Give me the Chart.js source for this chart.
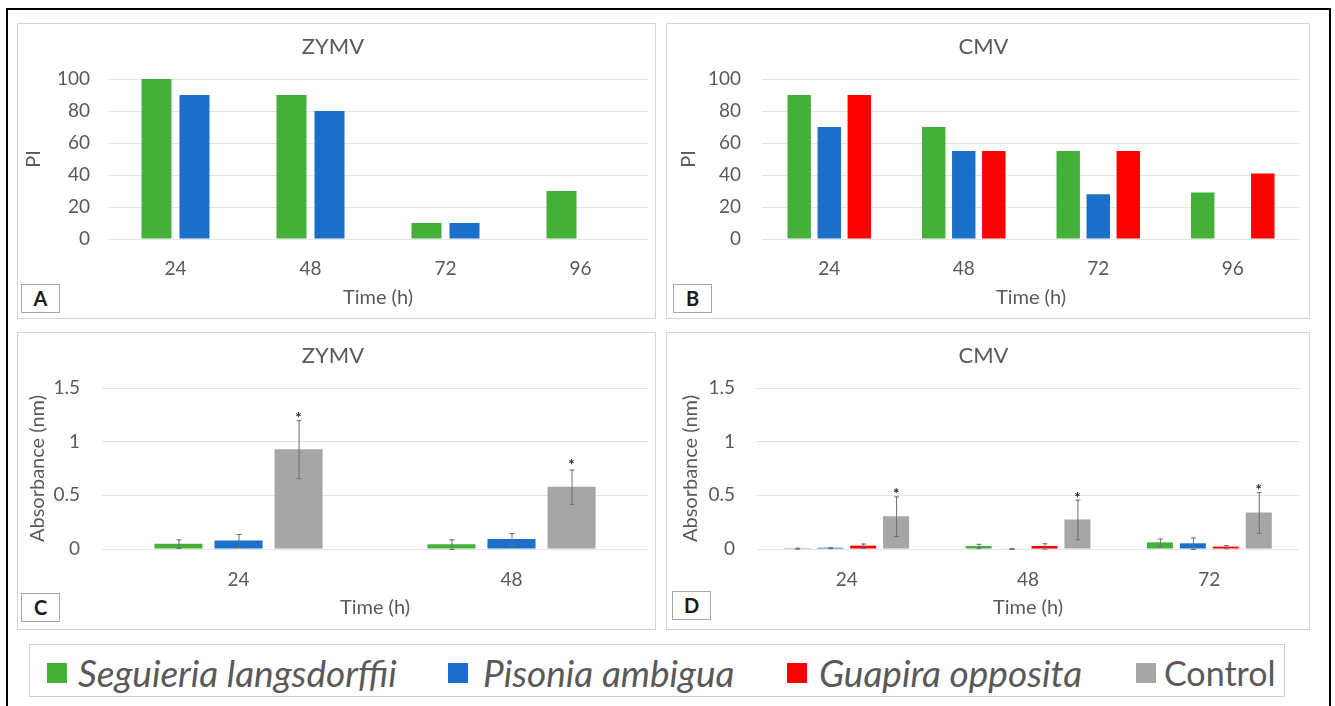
<!DOCTYPE html>
<html>
<head>
<meta charset="utf-8">
<script src="https://cdn.jsdelivr.net/npm/chart.js@4.4.1/dist/chart.umd.min.js"></script>
<style>
  body { margin: 0; background: #fff; width: 1335px; height: 706px; overflow: hidden; font-family: Lato, sans-serif; }
  .frame { position: absolute; left: 6px; top: 8px; width: 1321px; height: 730px; border: 2px solid #000; }
  .panel { position: absolute; border: 1px solid #d4d4d4; box-sizing: border-box; background: #fff; }
  .panel canvas { display: block; }
  .tag { position: absolute; width: 39px; height: 29px; border: 1px solid #a6a6a6; box-sizing: border-box; background: #fff;
         font: bold 20px Lato, sans-serif; color: #1a1a1a; text-align: center; line-height: 27px; }
  .legend { position: absolute; left: 29px; top: 644px; width: 1256px; height: 53px; border: 1px solid #cfcfcf; box-sizing: border-box; background: #fff; }
  .sq { position: absolute; top: 663px; width: 20px; height: 20px; }
  .lbl { position: absolute; top: 650px; height: 46px; line-height: 46px; font-size: 34px; color: #595959; white-space: nowrap; }
  .lbl.it { font-style: italic; font-size: 37px; }
</style>
</head>
<body>
<div class="frame"></div>

<div class="panel" style="left:17px;top:23px;width:639px;height:296px"><canvas id="grafA"></canvas></div>
<div class="panel" style="left:666px;top:23px;width:644px;height:296px"><canvas id="grafB"></canvas></div>
<div class="panel" style="left:17px;top:332px;width:639px;height:298px"><canvas id="grafC"></canvas></div>
<div class="panel" style="left:666px;top:332px;width:644px;height:298px"><canvas id="grafD"></canvas></div>

<div class="tag" style="left:21px;top:284px">A</div>
<div class="tag" style="left:673px;top:284px">B</div>
<div class="tag" style="left:21px;top:593px">C</div>
<div class="tag" style="left:672px;top:591px">D</div>

<div class="legend"></div>
<div class="sq" style="left:47px;background:#44b03a"></div>
<div class="lbl it" style="left:78px">Seguieria langsdorffii</div>
<div class="sq" style="left:448px;background:#1b6fc8"></div>
<div class="lbl it" style="left:483px">Pisonia ambigua</div>
<div class="sq" style="left:787px;background:#ff0000"></div>
<div class="lbl it" style="left:819px">Guapira opposita</div>
<div class="sq" style="left:1136px;background:#a6a6a6"></div>
<div class="lbl" style="left:1164px">Control</div>

<script>
// categorias (tiempo en horas)
const horasAB = ['24', '48', '72', '96'];
const horasC = ['24', '48'];
const horasD = ['24', '48', '72'];

// ticks
const ticksPI = [0, 20, 40, 60, 80, 100];
const ticksAbs = [0, 0.5, 1, 1.5];

// A - ZYMV, PI
const piZymvSeguieria = [100, 90, 10, 30];
const piZymvPisonia = [90, 80, 10, null];

// B - CMV, PI
const piCmvSeguieria = [90, 70, 55, 29];
const piCmvPisonia = [70, 55, 28, null];
const piCmvGuapira = [90, 55, 55, 41];

// C - ZYMV, absorbancia
const absZymvSeguieria = [0.05, 0.045];
const errZymvSeguieria = [0.04, 0.045];
const absZymvPisonia = [0.08, 0.093];
const errZymvPisonia = [0.06, 0.055];
const absZymvControl = [0.93, 0.58];
const errZymvControl = [0.27, 0.16];
const starZymvControl = [1.26, 0.82];

// D - CMV, absorbancia
const absCmvSeguieria = [0.008, 0.028, 0.062];
const errCmvSeguieria = [0.005, 0.02, 0.035];
const absCmvPisonia = [0.012, 0.005, 0.053];
const errCmvPisonia = [0.005, 0.005, 0.055];
const absCmvGuapira = [0.031, 0.028, 0.022];
const errCmvGuapira = [0.02, 0.025, 0.015];
const absCmvControl = [0.305, 0.275, 0.34];
const errCmvControl = [0.185, 0.185, 0.19];
const starCmvControl = [0.55, 0.515, 0.59];

const verde = '#44b03a';
const azul = '#1b6fc8';
const rojo = '#ff0000';
const gris = '#a6a6a6';
const texto = '#595959';

// barras de error y asteriscos
const barrasError = {
    id: 'barrasError',
    afterDatasetsDraw(chart) {
        const ctx = chart.ctx;
        const y = chart.scales.y;
        chart.data.datasets.forEach((ds, i) => {
            const meta = chart.getDatasetMeta(i);
            meta.data.forEach((bar, j) => {
                const v = ds.data[j];
                if (v == null) return;
                if (ds.errores && ds.errores[j] != null) {
                    const e = ds.errores[j];
                    const y1 = y.getPixelForValue(v + e);
                    const y2 = y.getPixelForValue(Math.max(v - e, 0));
                    ctx.save();
                    ctx.strokeStyle = '#6e6e6e';
                    ctx.lineWidth = 1;
                    ctx.beginPath();
                    ctx.moveTo(bar.x + 0.5, y1);
                    ctx.lineTo(bar.x + 0.5, y2);
                    ctx.moveTo(bar.x - 2, y1 + 0.5);
                    ctx.lineTo(bar.x + 3, y1 + 0.5);
                    ctx.moveTo(bar.x - 2, y2 + 0.5);
                    ctx.lineTo(bar.x + 3, y2 + 0.5);
                    ctx.stroke();
                    ctx.restore();
                }
                if (ds.asteriscos && ds.asteriscos[j] != null) {
                    ctx.save();
                    ctx.fillStyle = '#222';
                    ctx.font = 'bold 15px Lato, sans-serif';
                    ctx.textAlign = 'center';
                    ctx.textBaseline = 'middle';
                    ctx.fillText('*', bar.x, y.getPixelForValue(ds.asteriscos[j]) + 4);
                    ctx.restore();
                }
            });
        });
    }
};

function crearGrafica(id, cfg) {
    const ctx = document.getElementById(id);
    return new Chart(ctx, {
        type: 'bar',
        data: {
            labels: cfg.labels,
            datasets: cfg.datasets.map(d => Object.assign({
                categoryPercentage: cfg.cat,
                barPercentage: cfg.bar,
                borderWidth: 0
            }, d))
        },
        options: {
            responsive: true,
            maintainAspectRatio: false,
            animation: false,
            events: [],
            layout: { padding: { left: 0, right: cfg.padRight, top: 0, bottom: 0 } },
            scales: {
                x: {
                    grid: { display: false, drawTicks: false },
                    border: { display: false },
                    ticks: { color: texto, font: { family: 'Lato', size: 19 }, padding: cfg.xTickPad },
                    title: {
                        display: true, text: 'Time (h)', color: texto,
                        font: { family: 'Lato', size: 20, lineHeight: 1.2 },
                        padding: { top: 0, bottom: cfg.xTitlePad }
                    },
                    afterFit: s => { s.height = cfg.xHeight; }
                },
                y: {
                    min: cfg.ticks[0],
                    max: cfg.ticks[cfg.ticks.length - 1],
                    grid: { color: '#e4e4e4', drawTicks: false, lineWidth: 1 },
                    border: { display: false },
                    ticks: {
                        color: texto, font: { family: 'Lato', size: 19 }, padding: cfg.yTickPad,
                        callback: v => String(v)
                    },
                    afterBuildTicks: s => { s.ticks = cfg.ticks.map(v => ({ value: v })); },
                    title: {
                        display: true, text: cfg.yTitle, color: texto,
                        font: { family: 'Lato', size: 20, lineHeight: 1.2 },
                        padding: { top: cfg.yTitlePad, bottom: 0 }
                    },
                    afterFit: s => { s.width = cfg.yWidth; }
                }
            },
            plugins: {
                legend: { display: false },
                tooltip: { enabled: false },
                title: {
                    display: true, text: cfg.title, color: texto,
                    font: { family: 'Lato', size: 22, weight: 'normal', lineHeight: '24px' },
                    padding: { top: 11, bottom: 20 }
                }
            }
        },
        plugins: [barrasError]
    });
}

crearGrafica('grafA', {
    labels: horasAB, title: 'ZYMV', yTitle: 'PI', ticks: ticksPI,
    cat: 0.563, bar: 0.79,
    yWidth: 90, padRight: 7, xHeight: 79,
    yTickPad: 18, yTitlePad: 4, xTickPad: 18, xTitlePad: 8,
    datasets: [
        { label: 'Seguieria langsdorffii', data: piZymvSeguieria, backgroundColor: verde },
        { label: 'Pisonia ambigua', data: piZymvPisonia, backgroundColor: azul }
    ]
});

crearGrafica('grafB', {
    labels: horasAB, title: 'CMV', yTitle: 'PI', ticks: ticksPI,
    cat: 0.67, bar: 0.78,
    yWidth: 95, padRight: 9, xHeight: 79,
    yTickPad: 21, yTitlePad: 10, xTickPad: 18, xTitlePad: 8,
    datasets: [
        { label: 'Seguieria langsdorffii', data: piCmvSeguieria, backgroundColor: verde },
        { label: 'Pisonia ambigua', data: piCmvPisonia, backgroundColor: azul },
        { label: 'Guapira opposita', data: piCmvGuapira, backgroundColor: rojo }
    ]
});

crearGrafica('grafC', {
    labels: horasC, title: 'ZYMV', yTitle: 'Absorbance (nm)', ticks: ticksAbs,
    cat: 0.66, bar: 0.8,
    yWidth: 84, padRight: 7, xHeight: 80,
    yTickPad: 22, yTitlePad: 8, xTickPad: 19, xTitlePad: 9,
    datasets: [
        { label: 'Seguieria langsdorffii', data: absZymvSeguieria, errores: errZymvSeguieria, backgroundColor: verde },
        { label: 'Pisonia ambigua', data: absZymvPisonia, errores: errZymvPisonia, backgroundColor: azul },
        { label: 'Control', data: absZymvControl, errores: errZymvControl, asteriscos: starZymvControl, backgroundColor: gris }
    ]
});

crearGrafica('grafD', {
    labels: horasD, title: 'CMV', yTitle: 'Absorbance (nm)', ticks: ticksAbs,
    cat: 0.727, bar: 0.79,
    yWidth: 89, padRight: 9, xHeight: 80,
    yTickPad: 21, yTitlePad: 12, xTickPad: 19, xTitlePad: 9,
    datasets: [
        { label: 'Seguieria langsdorffii', data: absCmvSeguieria, errores: errCmvSeguieria, backgroundColor: verde },
        { label: 'Pisonia ambigua', data: absCmvPisonia, errores: errCmvPisonia, backgroundColor: azul },
        { label: 'Guapira opposita', data: absCmvGuapira, errores: errCmvGuapira, backgroundColor: rojo },
        { label: 'Control', data: absCmvControl, errores: errCmvControl, asteriscos: starCmvControl, backgroundColor: gris }
    ]
});
</script>
</body>
</html>
